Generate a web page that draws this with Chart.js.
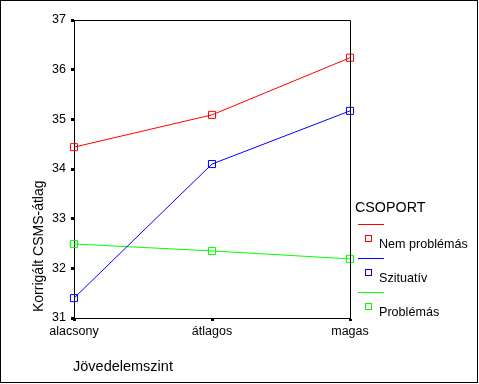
<!DOCTYPE html>
<html>
<head>
<meta charset="utf-8">
<script src="https://cdn.jsdelivr.net/npm/chart.js@4.4.0/dist/chart.umd.min.js"></script>
<style>
  html, body { margin: 0; padding: 0; background: #fff; }
  #wrap { width: 479px; height: 384px; position: relative; }
</style>
</head>
<body>
<div id="wrap"><canvas id="chart" width="479" height="384"></canvas></div>
<script>
// Chart data
const categories = ['alacsony', 'átlagos', 'magas'];
const groupLabels = ['Nem problémás', 'Szituatív', 'Problémás'];
const groupColors = ['#ff0000', '#0000ff', '#00ff00'];
const nemProblemas = [34.44, 35.09, 36.24];
const szituativ = [31.40, 34.10, 35.17];
const problemas = [32.49, 32.35, 32.19];
const yTicks = [31, 32, 33, 34, 35, 36, 37];

const fontFamily = '"Liberation Sans", Arial, sans-serif';

// Frame, plot box, axis titles and SPSS-style legend
const decorPlugin = {
  id: 'decor',
  afterDraw(chart) {
    const ctx = chart.ctx;
    const a = chart.chartArea;
    ctx.save();
    ctx.strokeStyle = '#000';
    ctx.lineWidth = 1;
    // outer frame
    ctx.strokeRect(0.5, 0.5, 477, 382);
    // top and right edge of plot box
    ctx.beginPath();
    ctx.moveTo(a.left, a.top + 0.5);
    ctx.lineTo(a.right + 0.5, a.top + 0.5);
    ctx.lineTo(a.right + 0.5, a.bottom);
    ctx.stroke();

    ctx.fillStyle = '#000';
    // y title
    ctx.save();
    ctx.translate(43, 312);
    ctx.rotate(-Math.PI / 2);
    ctx.font = '14px ' + fontFamily;
    ctx.textAlign = 'left';
    ctx.textBaseline = 'alphabetic';
    ctx.fillText('Korrigált CSMS-átlag', 0, 0);
    ctx.restore();

    // x title
    ctx.font = '14.5px ' + fontFamily;
    ctx.textAlign = 'left';
    ctx.textBaseline = 'alphabetic';
    ctx.fillText('Jövedelemszint', 73, 371);

    // legend
    ctx.font = '14.3px ' + fontFamily;
    ctx.fillText('CSOPORT', 355, 212);
    ctx.font = '12.6px ' + fontFamily;
    const lineY = [224, 258, 292];
    chart.data.datasets.forEach((ds, i) => {
      const y = lineY[i];
      ctx.strokeStyle = ds.borderColor;
      ctx.beginPath();
      ctx.moveTo(358, y + 0.5);
      ctx.lineTo(384, y + 0.5);
      ctx.stroke();
      ctx.strokeRect(365.5, y + 11.5, 6, 6);
      ctx.fillStyle = '#000';
      ctx.fillText(ds.label, 379, y + 23.5);
    });
    ctx.restore();
  }
};

const seriesData = [nemProblemas, szituativ, problemas];

new Chart(document.getElementById('chart'), {
  type: 'line',
  data: {
    labels: categories,
    datasets: seriesData.map((vals, i) => ({
      label: groupLabels[i],
      data: vals,
      borderColor: groupColors[i],
      backgroundColor: '#fff',
      borderWidth: 1,
      tension: 0,
      pointStyle: 'rect',
      pointRadius: 5,
      pointBorderWidth: 1,
      pointBorderColor: groupColors[i],
      pointBackgroundColor: 'rgba(0,0,0,0)',
      clip: false
    }))
  },
  options: {
    responsive: false,
    animation: false,
    devicePixelRatio: 1,
    layout: { padding: { top: 20, right: 129, left: 0, bottom: 0 } },
    plugins: {
      legend: { display: false },
      tooltip: { enabled: false }
    },
    scales: {
      x: {
        offset: false,
        afterFit: s => { s.height = 66; },
        grid: { drawOnChartArea: false, color: '#000', tickLength: 3, tickWidth: 3 },
        border: { display: true, color: '#000', width: 1 },
        ticks: {
          color: '#000',
          font: { family: fontFamily, size: 12.5 },
          padding: 3,
          maxRotation: 0
        }
      },
      y: {
        min: 31,
        max: 37,
        afterFit: s => { s.width = 74; },
        afterBuildTicks: s => { s.ticks = yTicks.map(v => ({ value: v })); },
        grid: { drawOnChartArea: false, color: '#000', tickLength: 3, tickWidth: 3 },
        border: { display: true, color: '#000', width: 1 },
        ticks: {
          color: '#000',
          font: { family: fontFamily, size: 12.5 },
          padding: 5
        }
      }
    }
  },
  plugins: [decorPlugin]
});
</script>
</body>
</html>
